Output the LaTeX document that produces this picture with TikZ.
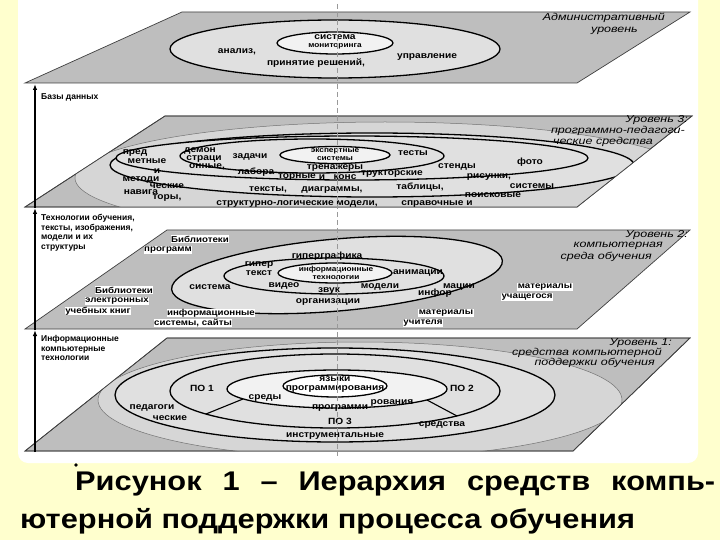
\documentclass[tikz,border=0pt]{standalone}
\usepackage{fontspec}
\setmainfont{Liberation Sans}
\newfontfamily\lvlfont[FakeStretch=1.25]{Liberation Sans}
\newfontfamily\lblfont[FakeStretch=1.13]{Liberation Sans}
\newfontfamily\capfont[FakeStretch=1.14]{Liberation Sans}
\usetikzlibrary{arrows.meta}
\definecolor{bgyellow}{RGB}{255,255,206}
\definecolor{plane}{RGB}{190,190,190}
\definecolor{ell}{RGB}{224,224,224}
\definecolor{ellb}{RGB}{214,214,214}
\definecolor{innerc}{RGB}{242,242,242}
\begin{document}
\begin{tikzpicture}[x=1pt,y=-1pt,
  planest/.style={fill=plane, draw=black!75, line width=0.7pt},
  thickell/.style={draw=black, line width=1.3pt},
  thinell/.style={draw=black!55, line width=0.5pt},
  lbl/.style={font=\lblfont\bfseries\fontsize{9}{9.5}\selectfont, inner sep=0pt},
  smalllbl/.style={font=\lblfont\bfseries\fontsize{7.3}{7.8}\selectfont, inner sep=0pt},
  wbox/.style={fill=white, inner sep=0.4pt, font=\lblfont\bfseries\fontsize{8.6}{9}\selectfont},
  lvl/.style={font=\lvlfont\itshape\fontsize{10}{11}\selectfont, inner sep=0pt, anchor=east},
  side/.style={font=\bfseries\fontsize{8.5}{9.7}\selectfont, align=left, anchor=north west, inner sep=0pt},
  axisarrow/.style={-{Latex[length=6pt,width=4.5pt]}, line width=1.4pt}
]
\useasboundingbox (0,0) rectangle (720,540);
\fill[bgyellow] (0,0) rectangle (720,540);
\fill[white, rounded corners=10pt] (18,-20) rectangle (698,463);

% ---------- Layer 4 : administrative ----------
\path[planest] (182,12) -- (690,12) -- (577,83) -- (25,83) -- cycle;
\begin{scope}
  \clip (182,12) -- (690,12) -- (577,83) -- (25,83) -- cycle;
  \filldraw[fill=ell, thickell] (335,49) ellipse [x radius=165, y radius=29];
  \filldraw[fill=innerc, thickell] (335,43) ellipse [x radius=58, y radius=11];
\end{scope}
\node[lbl] (t4a) at (335,37) {система};
\node[smalllbl] (t4b) at (335,46) {мониторинга};
\node[lbl] (t4c) at (237,52) {анализ,};
\node[lbl] (t4d) at (316,63) {принятие решений,};
\node[lbl] (t4e) at (427,57) {управление};
\node[lvl] (v4a) at (665,18) {Административный};
\node[lvl] (v4b) at (638,31) {уровень};

% ---------- Layer 3 ----------
\path[planest] (165,116) -- (692,116) -- (577,207) -- (25,207) -- cycle;
\begin{scope}
  \clip (165,116) -- (692,116) -- (577,207) -- (25,207) -- cycle;
  \filldraw[fill=ellb, thinell] (385,178) ellipse [x radius=310, y radius=56];
  \filldraw[fill=ell, thickell] (372,165) ellipse [x radius=262, y radius=32];
  \filldraw[fill=ell, thickell] (352,158) ellipse [x radius=236, y radius=22];
  \filldraw[fill=ell, thickell] (312,156) ellipse [x radius=132, y radius=17];
  \filldraw[fill=innerc, thickell] (335,155) ellipse [x radius=55, y radius=8.5];
\end{scope}
\path[draw=black!75, line width=0.7pt] (165,116) -- (692,116) -- (577,207) -- (25,207) -- cycle;
\node[smalllbl] (t3a) at (335,151) {экспертные};
\node[smalllbl] (t3b) at (335,158.5) {системы};
\node[lbl] (t3c) at (250,157) {задачи};
\node[lbl] (t3d) at (413,153) {тесты};
\node[lbl] (t3e) at (335,168) {тренажеры};
\node[lbl] (t3f) at (200,151) {демон};
\node[lbl] (t3g) at (204,159) {страци};
\node[lbl] (t3h) at (207,167) {онные,};
\node[lbl] (t3i) at (135,153) {пред};
\node[lbl] (t3j) at (147,161) {метные};
\node[lbl] (t3k) at (157,171) {и};
\node[lbl] (t3l) at (141,180) {методи};
\node[lbl] (t3m) at (167,186) {ческие};
\node[lbl] (t3n) at (256,172) {лабора};
\node[lbl] (t3o) at (297,177) {торные};
\node[lbl] (t3p) at (322,177) {и};
\node[lbl] (t3q) at (345,177) {конс};
\node[lbl] (t3r) at (392,174) {трукторские};
\node[lbl] (t3s) at (457,167) {стенды};
\node[lbl] (t3t) at (530,162) {фото};
\node[lbl] (t3u) at (489,177) {рисунки,};
\node[lbl] (t3v) at (268,190) {тексты,};
\node[lbl] (t3w) at (332,190) {диаграммы,};
\node[lbl] (t3x) at (420,187) {таблицы,};
\node[lbl] (t3y) at (532,186) {системы};
\node[lbl] (t3z) at (493,195) {поисковые};
\node[lbl] (t3aa) at (141,192) {навига};
\node[lbl] (t3ab) at (167,198) {торы,};
\node[lbl] (t3ac) at (297,204) {структурно-логические модели,};
\node[lbl] (t3ad) at (437,204) {справочные и};
\node[lvl] (v3a) at (688,120) {Уровень 3:};
\node[lvl] (v3b) at (685,131) {программно-педагоги-};
\node[lvl] (v3c) at (653,142) {ческие средства};

% ---------- Layer 2 ----------
\path[planest] (167,230) -- (690,230) -- (577,329) -- (25,329) -- cycle;
\begin{scope}
  \clip (167,230) -- (690,230) -- (577,329) -- (25,329) -- cycle;
  \filldraw[fill=ell, thickell, rotate around={5:(337,275)}] (337,275) ellipse [x radius=166, y radius=36];
  \filldraw[fill=ell, thickell] (334,276) ellipse [x radius=110, y radius=18];
  \filldraw[fill=innerc, thickell] (335,273) ellipse [x radius=57, y radius=10];
\end{scope}
\node[lbl] (t2a) at (327,256) {гиперграфика};
\node[lbl] (t2b) at (259,265) {гипер};
\node[lbl] (t2c) at (259,273) {текст};
\node[smalllbl] (t2d) at (336,270) {информационные};
\node[smalllbl] (t2e) at (336,277.5) {технологии};
\node[lbl] (t2f) at (418,273) {анимации};
\node[lbl] (t2g) at (284,286) {видео};
\node[lbl] (t2h) at (329,291) {звук};
\node[lbl] (t2i) at (380,287) {модели};
\node[lbl] (t2j) at (210,287) {система};
\node[lbl] (t2k) at (435,293) {инфор};
\node[lbl] (t2l) at (459,287) {мации};
\node[lbl] (t2m) at (328,302) {организации};
\node[wbox] (w2a) at (200,239) {Библиотеки};
\node[wbox] (w2b) at (168,250) {программ};
\node[wbox] (w2c) at (124,290) {Библиотеки};
\node[wbox] (w2d) at (117,301) {электронных};
\node[wbox] (w2e) at (98,311) {учебных книг};
\node[wbox] (w2f) at (211,313) {информационные};
\node[wbox] (w2g) at (193,323) {системы, сайты};
\node[wbox] (w2h) at (545,287) {материалы};
\node[wbox] (w2i) at (527,297) {учащегося};
\node[wbox] (w2j) at (446,313) {материалы};
\node[wbox] (w2k) at (423,323) {учителя};
\node[lvl] (v2a) at (688,235) {Уровень 2:};
\node[lvl] (v2b) at (663,246) {компьютерная};
\node[lvl] (v2c) at (652,257) {среда обучения};

% ---------- Layer 1 ----------
\path[planest] (167,338) -- (690,338) -- (573,451) -- (25,451) -- cycle;
\begin{scope}
  \clip (167,338) -- (690,338) -- (573,451) -- (25,451) -- cycle;
  \filldraw[fill=ellb, thinell] (360,400) ellipse [x radius=262, y radius=58];
  \filldraw[fill=ell, thickell] (335,395) ellipse [x radius=220, y radius=47];
  \filldraw[fill=ell, thickell] (335,391) ellipse [x radius=165, y radius=37];
  \filldraw[fill=innerc, thickell] (337,389) ellipse [x radius=110, y radius=19];
  \filldraw[fill=white, thickell] (335,386) ellipse [x radius=52, y radius=11];
\end{scope}
\path[draw=black!75, line width=0.7pt] (167,338) -- (690,338) -- (573,451) -- (25,451) -- cycle;
\coordinate (d1a) at (243,399);
\coordinate (d1b) at (206,414);
\coordinate (d2a) at (427,400);
\coordinate (d2b) at (457,416);
\draw[line width=1.1pt] (d1a) -- (d1b);
\draw[line width=1.1pt] (d2a) -- (d2b);
\node[lbl] (t1a) at (335,379) {языки};
\node[lbl] (t1b) at (335,389) {программирования};
\node[lbl] (t1c) at (265,398) {среды};
\node[lbl] (t1d) at (340,408) {программи};
\node[lbl] (t1e) at (392,403) {рования};
\node[lbl] (t1f) at (202,388) {ПО 1};
\node[lbl] (t1g) at (462,388) {ПО 2};
\node[lbl] (t1h) at (340,421) {ПО 3};
\node[lbl] (t1i) at (442,425) {средства};
\node[lbl] (t1j) at (335,436) {инструментальные};
\node[lbl] (t1k) at (152,408) {педагоги};
\node[lbl] (t1l) at (170,418) {ческие};
\node[lvl] (v1a) at (672,343) {Уровень 1:};
\node[lvl] (v1b) at (662,353) {средства компьютерной};
\node[lvl] (v1c) at (655,363) {поддержки обучения};

% ---------- centre axis ----------
\coordinate (c0) at (337,4);
\coordinate (c1) at (337,456);
\draw[black!40, line width=0.5pt, dash pattern=on 5pt off 3pt] (c0) -- (c1);

% ---------- left axis ----------
\coordinate (a0) at (35,452);
\coordinate (a1) at (35,330);
\coordinate (a2) at (35,208);
\coordinate (a3) at (35,84);
\draw[axisarrow] (a0) -- (a1);
\draw[axisarrow] (a1) -- (a2);
\draw[axisarrow] (a2) -- (a3);
\node[side, anchor=west] (s1) at (41,97) {Базы данных};
\node[side] (s2) at (41,214) {Технологии обучения,\\тексты, изображения,\\модели и их\\структуры};
\node[side] (s3) at (41,335) {Информационные\\компьютерные\\технологии};

% ---------- caption ----------
\fill (76,465) circle (1.8);
\node[anchor=west, inner sep=0pt, font=\capfont\bfseries\fontsize{27}{30}\selectfont] (cap1) at (75,484) {\makebox[640pt][s]{Рисунок 1 – Иерархия средств компь-}};
\node[anchor=west, inner sep=0pt, font=\capfont\bfseries\fontsize{27}{30}\selectfont] (cap2) at (20,521) {ютерной поддержки процесса обучения};
\end{tikzpicture}
\end{document}
